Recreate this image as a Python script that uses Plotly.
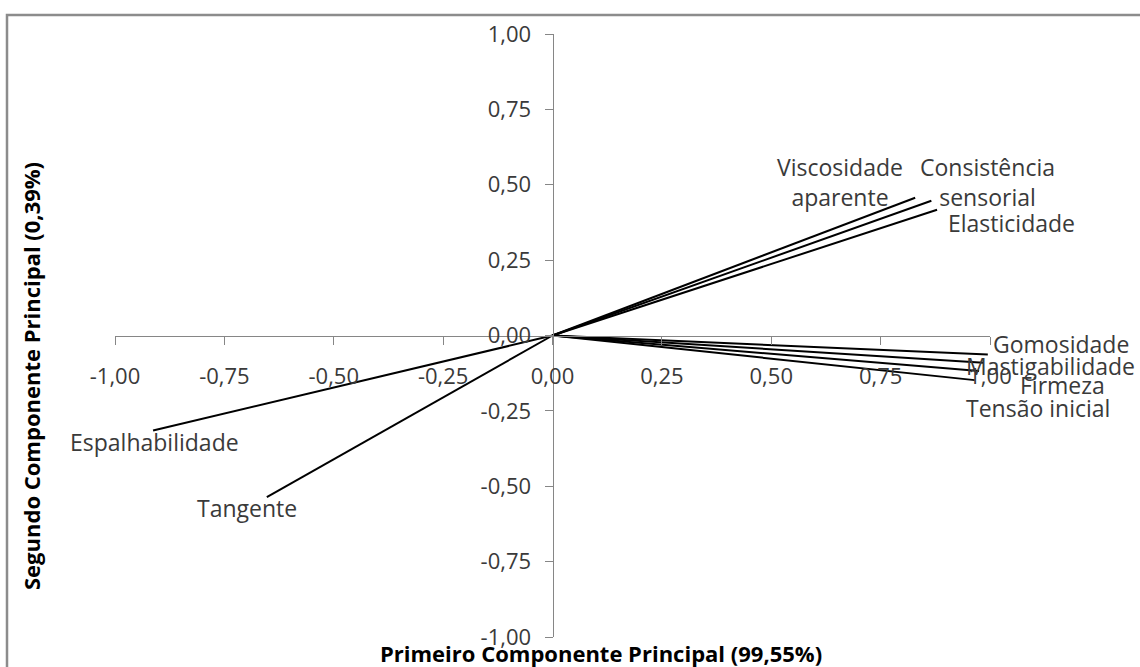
import plotly.graph_objects as go

# Loadings of each attribute on the first two principal components
variables = [
    "Viscosidade<br>aparente",
    "Consistência<br>sensorial",
    "Elasticidade",
    "Gomosidade",
    "Mastigabilidade",
    "Firmeza",
    "Tensão inicial",
    "Espalhabilidade",
    "Tangente",
]
pc1 = [0.829, 0.866, 0.879, 0.995, 0.985, 0.975, 0.965, -0.913, -0.653]
pc2 = [0.457, 0.447, 0.417, -0.063, -0.090, -0.118, -0.148, -0.315, -0.536]

tick_values = [-1.0, -0.75, -0.5, -0.25, 0.0, 0.25, 0.5, 0.75, 1.0]
tick_labels = ["-1,00", "-0,75", "-0,50", "-0,25", "0,00", "0,25", "0,50", "0,75", "1,00"]

x_title = "Primeiro Componente Principal (99,55%)"
y_title = "Segundo Componente Principal (0,39%)"

# pixel offsets of each label from the end of its vector
label_offsets = [
    (-75, 16), (56, 19), (74, -13), (73, 10), (67, -3),
    (83, -14), (63, -28), (1, -12), (-20, -11),
]

FONT = "Open Sans"
TEXT = "#3a3a3a"
AXIS = "#868686"

# plot-area geometry in pixels
L, R, T, B = 115, 150, 34, 30
W, H = 1140 - L - R, 667 - T - B


def px_x(p):
    return (p - L) / W


def px_y(p):
    return (667 - B - p) / H


fig = go.Figure()

for name, x, y in zip(variables, pc1, pc2):
    fig.add_trace(go.Scatter(
        x=[0, x], y=[0, y], mode="lines",
        line=dict(color="black", width=2),
        name=name.replace("<br>", " "), showlegend=False, hoverinfo="skip",
    ))

for name, x, y, (dx, dy) in zip(variables, pc1, pc2, label_offsets):
    fig.add_annotation(
        x=x, y=y, xref="x", yref="y", text=name, showarrow=False,
        xshift=dx, yshift=dy, align="center",
        xanchor="center", yanchor="middle",
        font=dict(family=FONT, size=23, color=TEXT),
    )

axis_common = dict(
    range=[-1, 1], anchor="free", position=0.5,
    showline=True, linecolor=AXIS, linewidth=1,
    ticks="outside", ticklen=8, tickcolor=AXIS, tickwidth=1,
    tickvals=tick_values, ticktext=tick_labels,
    showgrid=False, zeroline=False,
    tickfont=dict(family=FONT, size=22, color=TEXT),
)

fig.update_layout(
    width=1140, height=667,
    margin=dict(l=L, r=R, t=T, b=B),
    paper_bgcolor="white", plot_bgcolor="white",
    xaxis=dict(**axis_common, ticklabelstandoff=13),
    yaxis=dict(**axis_common, ticklabelstandoff=9),
    showlegend=False,
)

# axis titles
fig.add_annotation(
    x=px_x(601), y=px_y(653), xref="paper", yref="paper",
    xanchor="center", yanchor="middle",
    text=f"<b>{x_title}</b>", showarrow=False,
    font=dict(family=FONT, size=22, color="black"),
)
fig.add_annotation(
    x=px_x(31), y=px_y(376), xref="paper", yref="paper",
    xanchor="center", yanchor="middle",
    text=f"<b>{y_title}</b>", textangle=-90, showarrow=False,
    font=dict(family=FONT, size=22, color="black"),
)

# chart frame
fig.add_shape(
    type="rect", xref="paper", yref="paper",
    x0=px_x(7), y0=-0.5, x1=1.5, y1=px_y(15),
    line=dict(color="#8c8c8c", width=2.5), fillcolor="rgba(0,0,0,0)", layer="below",
)

fig.write_html("out.html")
